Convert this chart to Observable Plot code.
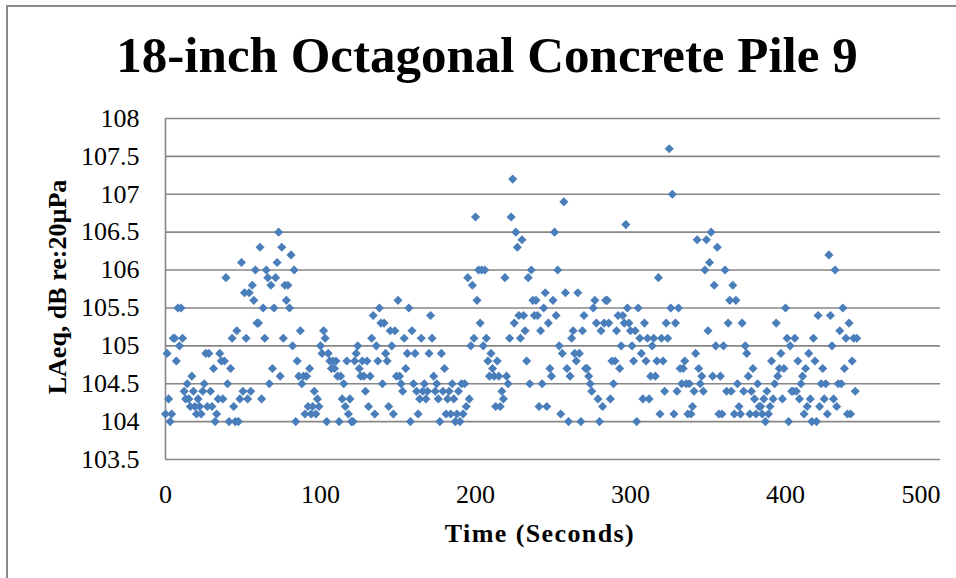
<!DOCTYPE html>
<html><head><meta charset="utf-8">
<script src="https://cdn.jsdelivr.net/npm/d3@7"></script>
<script src="https://cdn.jsdelivr.net/npm/@observablehq/plot@0.6"></script>
<style>
html,body{margin:0;padding:0;background:#fff;overflow:hidden;width:956px;height:578px;position:relative;}
#frame{position:absolute;left:6px;top:5px;width:1000px;height:1000px;border:2px solid #8a8a8a;box-sizing:border-box;}
#chart{position:absolute;left:0;top:0;}
.lbl{position:absolute;font-family:'Liberation Serif','Times New Roman',serif;font-weight:bold;color:#000;white-space:nowrap;text-align:center;}
#title{left:0;width:974px;top:30px;font-size:51px;line-height:51px;}
#xlab{left:340px;width:400px;top:521px;font-size:26px;line-height:26px;letter-spacing:1.4px;}
#ylab{left:-142px;width:400px;top:274px;font-size:26px;line-height:26px;transform:rotate(-90deg);}
</style></head><body>
<div id="frame"></div>
<div id="chart"></div>
<div id="title" class="lbl"></div>
<div id="xlab" class="lbl"></div>
<div id="ylab" class="lbl"></div>
<script>
const titleText = "18-inch Octagonal Concrete Pile 9";
const xLabelText = "Time (Seconds)";
const yLabelText = "LAeq, dB re:20µPa";
const xTicks = [0, 100, 200, 300, 400, 500];
const yTicks = [103.5, 104, 104.5, 105, 105.5, 106, 106.5, 107, 107.5, 108];

// LAeq (dB) per second, t = 0 .. 446 s
const laeq = [
104.1,104.9,104.3,104.0,104.1,105.1,105.1,104.8,105.5,105.0,
105.5,105.1,104.4,104.3,104.5,104.3,104.2,104.6,104.4,104.2,
104.1,104.3,104.2,104.1,104.4,104.5,104.9,104.2,104.9,104.4,
104.2,104.7,104.0,104.1,104.3,104.9,104.8,104.3,104.8,105.9,
104.5,104.0,104.7,105.1,104.2,104.0,105.2,104.0,104.3,106.1,
104.4,105.7,105.1,104.3,105.7,104.4,105.8,105.6,106.0,105.3,
105.3,106.3,104.3,105.5,105.1,106.0,105.9,104.5,105.8,104.7,
105.5,105.9,106.1,106.5,104.6,106.3,105.1,105.8,105.6,105.8,
105.5,106.2,105.0,106.0,104.0,104.8,104.6,105.2,104.5,104.6,
104.1,104.6,104.2,104.7,104.1,104.2,104.4,104.1,104.3,104.2,
105.0,104.9,105.2,105.1,104.0,104.9,104.8,104.7,104.8,104.7,
104.8,104.6,104.0,104.6,104.3,104.5,104.2,104.8,104.1,104.3,
104.0,104.0,104.8,104.9,105.0,104.7,104.6,104.8,104.6,104.4,
104.8,104.2,104.6,105.1,105.4,104.1,105.0,104.8,105.5,105.3,
104.5,105.3,104.9,104.8,104.2,105.2,105.0,104.1,105.2,104.6,
105.6,104.6,104.5,104.4,105.1,104.7,104.9,105.5,104.0,105.2,
104.5,104.9,104.4,104.1,104.3,105.1,104.4,104.5,104.3,104.4,
104.9,105.4,105.1,104.6,104.4,104.5,104.3,104.0,104.9,104.4,
104.7,104.1,104.3,104.4,104.1,104.5,104.3,104.0,104.1,104.4,
104.0,104.5,104.1,104.5,104.2,105.9,104.3,105.0,105.8,105.1,
106.7,105.6,106.0,105.3,106.0,105.0,106.0,105.1,104.8,104.6,
104.9,104.7,104.6,104.2,104.8,104.6,104.2,104.4,104.3,105.9,
104.6,104.5,105.1,106.7,107.2,105.3,106.5,106.3,105.4,105.1,
106.4,105.4,105.2,104.8,105.9,104.5,106.0,105.6,105.4,105.6,
105.4,104.2,105.2,104.5,105.5,105.7,104.2,105.3,104.7,104.6,
105.6,106.5,105.4,106.0,105.0,104.1,104.9,106.9,105.7,104.7,
104.0,104.6,105.1,105.2,104.9,104.8,105.7,104.9,104.0,105.2,
105.4,104.7,104.7,104.6,104.5,104.4,105.5,105.6,105.3,104.3,
104.0,105.2,104.2,105.3,105.6,105.6,105.3,104.3,104.8,104.5,
104.8,105.2,105.4,104.7,105.0,105.4,105.3,106.6,105.5,105.3,
105.2,105.0,104.8,105.2,104.0,105.5,105.1,104.9,104.3,105.3,
104.8,105.1,104.3,104.6,105.0,105.1,104.6,104.8,105.9,104.1,
105.1,104.8,104.4,105.3,105.1,107.6,105.5,107.0,104.1,105.3,
104.4,105.5,104.7,104.5,104.7,104.8,104.5,104.1,104.5,104.1,
104.2,104.4,104.9,106.4,104.7,104.5,104.6,104.4,106.0,106.4,
105.2,106.1,106.5,104.6,105.8,105.0,106.3,104.1,104.6,104.1,
105.0,106.0,104.4,105.3,105.6,104.4,105.8,104.1,105.6,104.5,
104.2,104.1,105.3,104.4,105.0,104.9,104.6,104.1,104.4,104.7,
104.3,104.1,104.5,104.2,104.2,104.1,104.3,104.0,104.4,104.1,
104.2,104.8,104.3,104.5,105.3,104.6,104.7,104.9,104.3,104.7,
105.5,105.1,104.0,105.0,104.4,104.4,105.1,104.4,104.8,104.3,
104.5,104.6,104.1,104.7,104.2,104.9,104.3,104.0,105.1,104.8,
104.0,105.4,104.2,104.5,104.7,104.3,104.5,104.1,106.2,105.4,
105.0,104.3,106.0,104.2,104.5,105.2,104.5,105.5,104.7,105.1,
104.1,105.3,104.1,104.8,105.1,104.4,105.1
];

const data = laeq.map((v, i) => ({t: i, v}));
const font = "'Liberation Serif','Times New Roman',serif";
const grid = "#878787";
const lastX = xTicks[xTicks.length - 1];

const plot = Plot.plot({
  width: 956, height: 578,
  marginLeft: 165, marginRight: 16, marginTop: 118, marginBottom: 119,
  style: {fontFamily: font, background: "transparent", color: "#000"},
  x: {domain: [xTicks[0], lastX]},
  y: {domain: [yTicks[0], yTicks[yTicks.length - 1]]},
  marks: [
    Plot.gridY(yTicks, {stroke: grid, strokeOpacity: 1, strokeWidth: 1.6}),
    Plot.ruleX([xTicks[0]], {stroke: grid, strokeWidth: 1.6}),
    Plot.axisX(xTicks.slice(0, -1), {tickSize: 0, tickPadding: 25, fontSize: 26, label: null, tickFormat: d => String(d)}),
    Plot.axisX([lastX], {tickSize: 0, tickPadding: 25, fontSize: 26, label: null, textAnchor: "end", dx: 0, tickFormat: d => String(d)}),
    Plot.axisY(yTicks, {tickSize: 0, tickPadding: 26, fontSize: 26, label: null, tickFormat: d => String(d)}),
    Plot.dot(data, {x: "t", y: "v", symbol: "diamond2", r: 4.1, fill: "#4a7ebb", stroke: "none"})
  ]
});
document.getElementById("chart").appendChild(plot);
document.getElementById("title").textContent = titleText;
document.getElementById("xlab").textContent = xLabelText;
document.getElementById("ylab").textContent = yLabelText;
</script>
</body></html>
